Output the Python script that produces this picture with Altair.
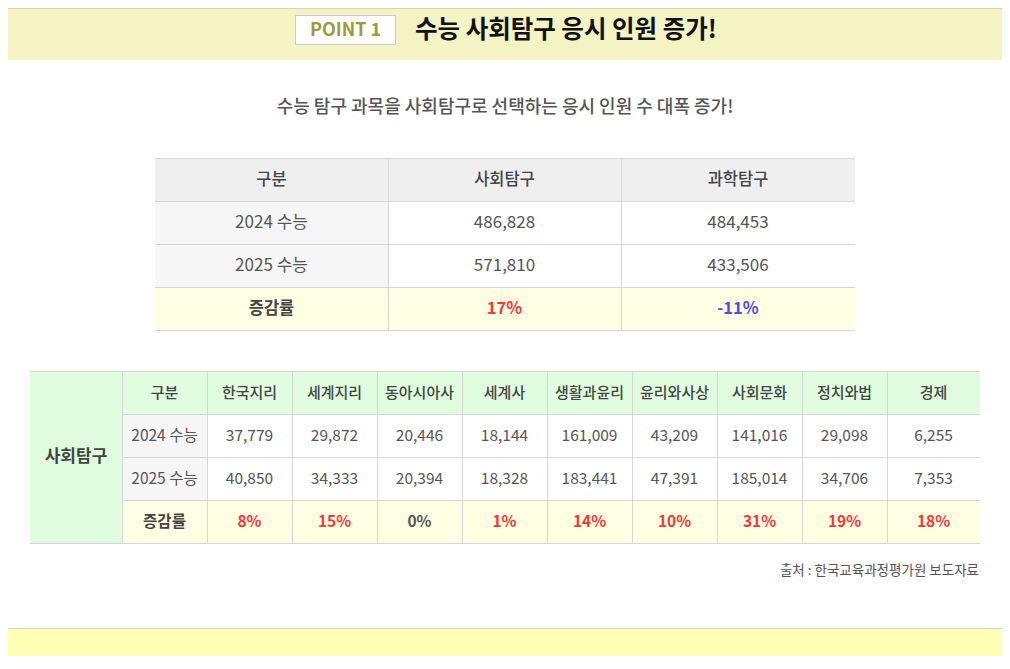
import altair as alt
import pandas as pd

# ---------------- data ----------------
title_text = "수능 사회탐구 응시 인원 증가!"
point_label = "POINT 1"
subtitle_text = "수능 탐구 과목을 사회탐구로 선택하는 응시 인원 수 대폭 증가!"
source_text = "출처 : 한국교육과정평가원 보도자료"

row_labels = ["2024 수능", "2025 수능", "증감률"]
corner_label = "구분"

t1_categories = ["사회탐구", "과학탐구"]
t1_2024 = [486828, 484453]
t1_2025 = [571810, 433506]
t1_rate = [17, -11]

t2_group = "사회탐구"
t2_subjects = ["한국지리", "세계지리", "동아시아사", "세계사", "생활과윤리",
               "윤리와사상", "사회문화", "정치와법", "경제"]
t2_2024 = [37779, 29872, 20446, 18144, 161009, 43209, 141016, 29098, 6255]
t2_2025 = [40850, 34333, 20394, 18328, 183441, 47391, 185014, 34706, 7353]
t2_rate = [8, 15, 0, 1, 14, 10, 31, 19, 18]

# ---------------- layout (page pixel space) ----------------
T1_X = [155, 388, 621, 855]
T1_Y = [158, 201, 244, 287, 330]
T2_X = [30, 122, 207, 292, 377, 462, 547, 632, 717, 802, 887, 980]
T2_Y = [371, 414, 457, 500, 543]

BANNER = "#f3f3c3"
BOTTOM = "#ffffb5"
GREEN = "#e0fde0"
HEAD_GRAY = "#efefef"
COL_GRAY = "#f6f6f6"
YELLOW = "#fefee2"
LINE = "#d6d6d6"
TXT = "#555555"
RED = "#ef3a3a"
BLUE = "#5148ee"

# visible page area (body margin 8px)
VW, VH = 994, 648


def rate_color(v):
    return RED if v > 0 else (BLUE if v < 0 else TXT)


def mid(a, b):
    return (a + b) / 2


rects = [
    dict(x=0, x2=1010, y=0, y2=60, fill=BANNER),
    dict(x=0, x2=1010, y=628, y2=669, fill=BOTTOM),
    dict(x=T1_X[0], x2=T1_X[-1], y=T1_Y[0], y2=T1_Y[1], fill=HEAD_GRAY),
    dict(x=T1_X[0], x2=T1_X[1], y=T1_Y[1], y2=T1_Y[3], fill=COL_GRAY),
    dict(x=T1_X[0], x2=T1_X[-1], y=T1_Y[3], y2=T1_Y[4], fill=YELLOW),
    dict(x=T2_X[0], x2=T2_X[1], y=T2_Y[0], y2=T2_Y[-1], fill=GREEN),
    dict(x=T2_X[1], x2=T2_X[-1], y=T2_Y[0], y2=T2_Y[1], fill=GREEN),
    dict(x=T2_X[1], x2=T2_X[2], y=T2_Y[1], y2=T2_Y[3], fill=COL_GRAY),
    dict(x=T2_X[1], x2=T2_X[-1], y=T2_Y[3], y2=T2_Y[4], fill=YELLOW),
]
rect_df = pd.DataFrame(rects)

box_df = pd.DataFrame([dict(x=295.5, x2=395.5, y=15.5, y2=44.5)])

lines = [dict(x=0, x2=1010, y=628.5, y2=628.5, c="#d2d2d2"),
         dict(x=0, x2=1010, y=8.5, y2=8.5, c="#d4d4b4")]
for yy in T1_Y:
    lines.append(dict(x=T1_X[0], x2=T1_X[-1], y=yy + 0.5, y2=yy + 0.5, c=LINE))
for xx in T1_X[1:-1]:
    lines.append(dict(x=xx + 0.5, x2=xx + 0.5, y=T1_Y[0], y2=T1_Y[-1], c=LINE))
for yy in (T2_Y[0], T2_Y[-1]):
    lines.append(dict(x=T2_X[0], x2=T2_X[-1], y=yy + 0.5, y2=yy + 0.5, c=LINE))
for yy in T2_Y[1:-1]:
    lines.append(dict(x=T2_X[1], x2=T2_X[-1], y=yy + 0.5, y2=yy + 0.5, c=LINE))
for xx in T2_X[1:-1]:
    lines.append(dict(x=xx + 0.5, x2=xx + 0.5, y=T2_Y[0], y2=T2_Y[-1], c=LINE))
line_df = pd.DataFrame(lines)

heads, cells, bolds = [], [], []
heads.append(dict(x=mid(T1_X[0], T1_X[1]), y=mid(T1_Y[0], T1_Y[1]), t=corner_label, c="#444444"))
for i, cat in enumerate(t1_categories):
    cx = mid(T1_X[i + 1], T1_X[i + 2])
    heads.append(dict(x=cx, y=mid(T1_Y[0], T1_Y[1]), t=cat, c="#444444"))
    cells.append(dict(x=cx, y=mid(T1_Y[1], T1_Y[2]), t=f"{t1_2024[i]:,}", c=TXT))
    cells.append(dict(x=cx, y=mid(T1_Y[2], T1_Y[3]), t=f"{t1_2025[i]:,}", c=TXT))
    bolds.append(dict(x=cx, y=mid(T1_Y[3], T1_Y[4]), t=f"{t1_rate[i]}%", c=rate_color(t1_rate[i])))
cells.append(dict(x=mid(T1_X[0], T1_X[1]), y=mid(T1_Y[1], T1_Y[2]), t=row_labels[0], c=TXT))
cells.append(dict(x=mid(T1_X[0], T1_X[1]), y=mid(T1_Y[2], T1_Y[3]), t=row_labels[1], c=TXT))
bolds.append(dict(x=mid(T1_X[0], T1_X[1]), y=mid(T1_Y[3], T1_Y[4]), t=row_labels[2], c="#444444"))
t1_heads = pd.DataFrame(heads)
t1_cells = pd.DataFrame(cells)
t1_bolds = pd.DataFrame(bolds)

heads, cells, bolds = [], [], []
heads.append(dict(x=mid(T2_X[1], T2_X[2]), y=mid(T2_Y[0], T2_Y[1]), t=corner_label, c="#444444"))
cells.append(dict(x=mid(T2_X[1], T2_X[2]), y=mid(T2_Y[1], T2_Y[2]), t=row_labels[0], c=TXT))
cells.append(dict(x=mid(T2_X[1], T2_X[2]), y=mid(T2_Y[2], T2_Y[3]), t=row_labels[1], c=TXT))
bolds.append(dict(x=mid(T2_X[1], T2_X[2]), y=mid(T2_Y[3], T2_Y[4]), t=row_labels[2], c="#444444"))
for i, s in enumerate(t2_subjects):
    cx = mid(T2_X[i + 2], T2_X[i + 3])
    heads.append(dict(x=cx, y=mid(T2_Y[0], T2_Y[1]), t=s, c="#444444"))
    cells.append(dict(x=cx, y=mid(T2_Y[1], T2_Y[2]), t=f"{t2_2024[i]:,}", c=TXT))
    cells.append(dict(x=cx, y=mid(T2_Y[2], T2_Y[3]), t=f"{t2_2025[i]:,}", c=TXT))
    bolds.append(dict(x=cx, y=mid(T2_Y[3], T2_Y[4]), t=f"{t2_rate[i]}%", c=rate_color(t2_rate[i])))
t2_heads = pd.DataFrame(heads)
t2_cells = pd.DataFrame(cells)
t2_bolds = pd.DataFrame(bolds)

group_df = pd.DataFrame([dict(x=mid(T2_X[0], T2_X[1]), y=mid(T2_Y[0], T2_Y[-1]), t=t2_group, c="#444444")])

title_df = pd.DataFrame([dict(x=415, y=31, t=title_text, c="#111111")])
point_df = pd.DataFrame([dict(x=345.5, y=31, t=point_label, c="#9b9b3a")])
sub_df = pd.DataFrame([dict(x=505, y=108, t=subtitle_text, c=TXT)])
src_df = pd.DataFrame([dict(x=979, y=571, t=source_text, c=TXT)])

# ---------------- chart ----------------
FONT = "Noto Sans CJK KR"
xs = alt.Scale(domain=[8, 8 + VW], range=[0, VW], nice=False, zero=False)
ys = alt.Scale(domain=[8, 8 + VH], range=[0, VH], nice=False, zero=False)

X = alt.X("x:Q", scale=xs, axis=None)
X2 = alt.X2("x2:Q")
Y = alt.Y("y:Q", scale=ys, axis=None)
Y2 = alt.Y2("y2:Q")

rect_layer = alt.Chart(rect_df).mark_rect(clip=True).encode(
    x=X, x2=X2, y=Y, y2=Y2, fill=alt.Fill("fill:N", scale=None))
box_layer = alt.Chart(box_df).mark_rect(fill="white", stroke="#c9c9c9", strokeWidth=1).encode(
    x=X, x2=X2, y=Y, y2=Y2)
line_layer = alt.Chart(line_df).mark_rule(strokeWidth=1, clip=True).encode(
    x=X, x2=X2, y=Y, y2=Y2, color=alt.Color("c:N", scale=None))


def text_layer(df, size, weight="normal", align="center"):
    return alt.Chart(df).mark_text(font=FONT, fontSize=size, fontWeight=weight,
                                   align=align, baseline="middle").encode(
        x=X, y=Y, text="t:N", color=alt.Color("c:N", scale=None))


chart = alt.layer(
    rect_layer, box_layer, line_layer,
    text_layer(title_df, 24.5, "bold", "left"),
    text_layer(point_df, 18, "bold"),
    text_layer(sub_df, 18, 500),
    text_layer(t1_heads, 16.5, 500),
    text_layer(t1_cells, 17, "normal"),
    text_layer(t1_bolds, 16.5, "bold"),
    text_layer(t2_heads, 15, 500),
    text_layer(t2_cells, 15.5, "normal"),
    text_layer(t2_bolds, 15.5, "bold"),
    text_layer(group_df, 17, "bold"),
    text_layer(src_df, 13.5, "normal", "right"),
).properties(
    width=VW, height=VH, padding=0, autosize="none", background="white"
).configure_view(stroke=None)

chart.save("out.html", embed_options={"renderer": "svg", "actions": False})
